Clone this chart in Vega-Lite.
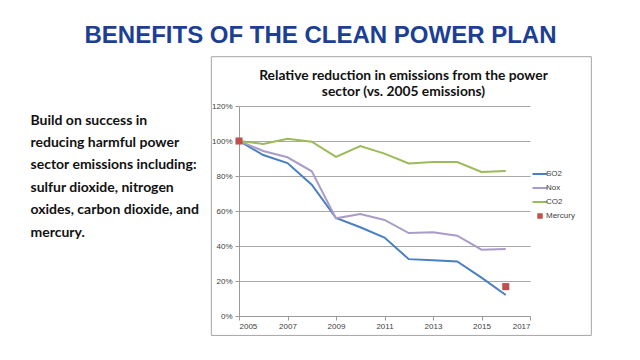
{
  "$schema": "https://vega.github.io/schema/vega-lite/v6.json",
  "width": 291,
  "height": 210,
  "autosize": "none",
  "padding": {"left": 239, "top": 106, "right": 110, "bottom": 44},
  "background": "white",
  "config": {
    "view": {"stroke": null},
    "axis": {
      "labelFont": "Liberation Sans",
      "labelFontSize": 8,
      "labelColor": "#404040",
      "domainColor": "#9a9a9a",
      "tickColor": "#9a9a9a",
      "gridColor": "#a8a8a8",
      "tickSize": 4
    }
  },
  "title": {
    "text": "BENEFITS OF THE CLEAN POWER PLAN",
    "font": "Liberation Sans",
    "fontSize": 24,
    "fontWeight": "bold",
    "color": "#1c3f94",
    "anchor": "middle",
    "frame": "group",
    "dx": -64,
    "dy": 2,
    "offset": 10
  },
  "data": {
    "values": [
      {"year": 2005, "series": "SO2", "value": 1.0},
      {"year": 2006, "series": "SO2", "value": 0.92},
      {"year": 2007, "series": "SO2", "value": 0.874},
      {"year": 2008, "series": "SO2", "value": 0.75},
      {"year": 2009, "series": "SO2", "value": 0.56},
      {"year": 2010, "series": "SO2", "value": 0.507},
      {"year": 2011, "series": "SO2", "value": 0.448},
      {"year": 2012, "series": "SO2", "value": 0.325},
      {"year": 2013, "series": "SO2", "value": 0.318},
      {"year": 2014, "series": "SO2", "value": 0.312},
      {"year": 2015, "series": "SO2", "value": 0.219},
      {"year": 2016, "series": "SO2", "value": 0.12},
      {"year": 2005, "series": "Nox", "value": 1.0},
      {"year": 2006, "series": "Nox", "value": 0.943},
      {"year": 2007, "series": "Nox", "value": 0.907},
      {"year": 2008, "series": "Nox", "value": 0.827},
      {"year": 2009, "series": "Nox", "value": 0.558},
      {"year": 2010, "series": "Nox", "value": 0.583},
      {"year": 2011, "series": "Nox", "value": 0.549},
      {"year": 2012, "series": "Nox", "value": 0.474},
      {"year": 2013, "series": "Nox", "value": 0.478},
      {"year": 2014, "series": "Nox", "value": 0.459},
      {"year": 2015, "series": "Nox", "value": 0.379},
      {"year": 2016, "series": "Nox", "value": 0.383},
      {"year": 2005, "series": "CO2", "value": 1.0},
      {"year": 2006, "series": "CO2", "value": 0.983},
      {"year": 2007, "series": "CO2", "value": 1.013},
      {"year": 2008, "series": "CO2", "value": 0.996},
      {"year": 2009, "series": "CO2", "value": 0.909},
      {"year": 2010, "series": "CO2", "value": 0.971},
      {"year": 2011, "series": "CO2", "value": 0.928},
      {"year": 2012, "series": "CO2", "value": 0.872},
      {"year": 2013, "series": "CO2", "value": 0.88},
      {"year": 2014, "series": "CO2", "value": 0.88},
      {"year": 2015, "series": "CO2", "value": 0.823},
      {"year": 2016, "series": "CO2", "value": 0.829},
      {"year": 2005, "series": "Mercury", "value": 1.0},
      {"year": 2016, "series": "Mercury", "value": 0.168}
    ]
  },
  "layer": [
    {
      "data": {"values": [{}]},
      "mark": {"type": "rect", "fill": null, "stroke": "#a6a6a6", "strokeWidth": 1},
      "encoding": {
        "x": {"datum": 2003.86, "type": "quantitative", "scale": {"domain": [2005, 2017], "nice": false}, "axis": null},
        "x2": {"datum": 2019.53},
        "y": {"datum": 1.4817, "type": "quantitative", "scale": {"domain": [0, 1.2], "nice": false}, "axis": null},
        "y2": {"datum": -0.111}
      }
    },
    {
      "transform": [{"filter": "datum.series !== 'Mercury'"}],
      "mark": {"type": "line", "strokeWidth": 2},
      "encoding": {
        "x": {
          "field": "year", "type": "quantitative",
          "scale": {"domain": [2005, 2017], "nice": false},
          "axis": {
            "values": [2005, 2007, 2009, 2011, 2013, 2015, 2017],
            "format": "d", "grid": false, "title": null, "labelPadding": 2
          }
        },
        "y": {
          "field": "value", "type": "quantitative",
          "scale": {"domain": [0, 1.2], "nice": false},
          "axis": {
            "values": [0, 0.2, 0.4, 0.6, 0.8, 1.0, 1.2],
            "format": ".0%", "grid": true, "labelPadding": 3,
            "title": ["Build on success in", "reducing harmful power", "sector emissions including:", "sulfur dioxide, nitrogen", "oxides, carbon dioxide, and", "mercury."],
            "titleAngle": 0, "titleAlign": "left", "titleBaseline": "alphabetic",
            "titleX": -209, "titleY": 18, "titleLineHeight": 22.4,
            "titleFont": "Lato", "titleFontSize": 14, "titleFontWeight": "bold", "titleColor": "#111111"
          }
        },
        "color": {
          "field": "series", "type": "nominal",
          "scale": {"domain": ["SO2", "Nox", "CO2", "Mercury"], "range": ["#4a7fc1", "#a99cc8", "#9bbb59", "#c0504d"]},
          "legend": {
            "title": null, "orient": "none", "legendX": 297, "legendY": 64,
            "labelFont": "Liberation Sans", "labelFontSize": 8, "labelColor": "#404040",
            "symbolSize": 225, "rowPadding": 6, "labelOffset": 2,
            "encode": {
              "symbols": {
                "update": {
                  "shape": {"signal": "datum.value === 'Mercury' ? 'square' : 'stroke'"},
                  "size": {"signal": "datum.value === 'Mercury' ? 30 : 225"},
                  "strokeWidth": {"signal": "datum.value === 'Mercury' ? 0 : 2"},
                  "fill": {"signal": "datum.value === 'Mercury' ? '#c0504d' : 'transparent'"}
                }
              }
            }
          }
        }
      }
    },
    {
      "transform": [{"filter": "datum.series === 'Mercury'"}],
      "mark": {"type": "square", "size": 50, "opacity": 1, "filled": true},
      "encoding": {
        "x": {"field": "year", "type": "quantitative", "scale": {"domain": [2005, 2017], "nice": false}, "axis": null},
        "y": {"field": "value", "type": "quantitative", "scale": {"domain": [0, 1.2], "nice": false}, "axis": null},
        "color": {"field": "series", "type": "nominal"}
      }
    },
    {
      "data": {"values": [{}]},
      "mark": {"type": "point", "opacity": 0},
      "encoding": {
        "x": {
          "datum": 2005, "type": "quantitative",
          "scale": {"domain": [2005, 2017], "nice": false},
          "axis": {
            "orient": "top", "labels": false, "ticks": false, "domain": false, "grid": false,
            "title": ["Relative reduction in emissions from the power", "sector (vs. 2005 emissions)"],
            "titleX": 164, "titleY": -27, "titleAlign": "center", "titleAnchor": null, "titleBaseline": "alphabetic",
            "titleLineHeight": 16, "titleFont": "Lato", "titleFontSize": 13.8, "titleFontWeight": "bold", "titleColor": "#111111"
          }
        }
      }
    }
  ],
  "resolve": {"axis": {"x": "independent", "y": "independent"}}
}
